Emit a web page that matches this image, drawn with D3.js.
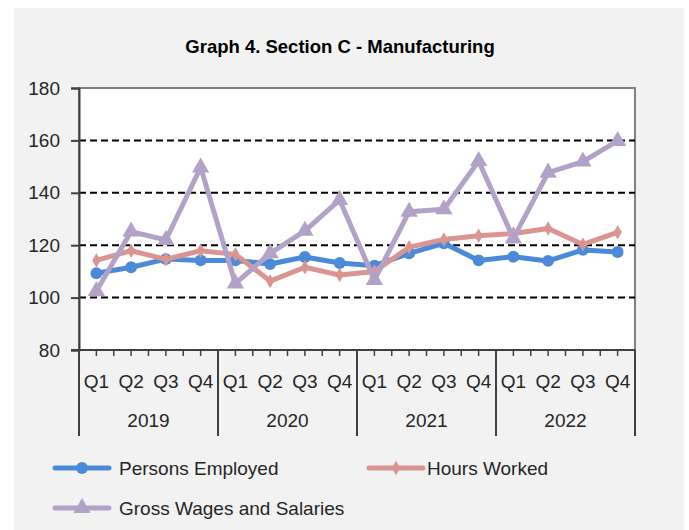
<!DOCTYPE html>
<html><head><meta charset="utf-8">
<script src="https://cdn.jsdelivr.net/npm/d3@7"></script>
<style>body{margin:0;background:#fff;}svg{display:block;font-family:"Liberation Sans",Arial,sans-serif;}</style>
</head><body>
<svg id="c" width="689" height="530"></svg>
<script>
const years = ["2019","2020","2021","2022"];
const quarters = ["Q1","Q2","Q3","Q4"];
const yTicks = [80,100,120,140,160,180];
const personsEmployed = [109.3,111.6,114.7,114.2,114.2,112.8,115.5,113.2,112.2,116.9,120.7,114.2,115.6,114.0,118.2,117.4];
const hoursWorked = [114.2,117.9,114.6,117.9,116.5,106.3,111.6,108.6,110.0,119.2,122.2,123.6,124.5,126.4,120.3,124.9];
const grossWages = [102.5,125.2,122.0,149.7,105.4,116.9,125.5,137.3,106.7,132.8,133.7,152.1,122.6,147.7,151.9,159.8];
const seriesNames = ["Persons Employed","Hours Worked","Gross Wages and Salaries"];

const cats = [];
years.forEach(y => quarters.forEach(q => cats.push(y + "-" + q)));

const svg = d3.select("#c");
const L = 79, R = 635, T = 88, B = 350;
svg.append("rect").attr("x",14).attr("y",8).attr("width",670).attr("height",522).attr("fill","#f2f2f2");
svg.append("rect").attr("x",L).attr("y",T).attr("width",R-L).attr("height",B-T).attr("fill","#fff").attr("stroke","#808080").attr("stroke-width",2);

const x = d3.scaleBand().domain(cats).range([L,R]);
const xc = d => x(d) + x.bandwidth()/2;
const y = d3.scaleLinear().domain([80,180]).range([B,T]);

// title
svg.append("text").attr("x",340).attr("y",53).attr("text-anchor","middle").attr("font-size",18.5).attr("font-weight","bold").attr("fill","#000").text("Graph 4. Section C - Manufacturing");

// gridlines
svg.append("g").selectAll("line").data(yTicks.filter(v => v>80 && v<180)).join("line")
  .attr("x1",L).attr("x2",R).attr("y1",d=>y(d)).attr("y2",d=>y(d))
  .attr("stroke","#000").attr("stroke-width",2).attr("stroke-dasharray","7,4");

// y axis
const ya = svg.append("g").attr("transform",`translate(${L},0)`)
  .call(d3.axisLeft(y).tickValues(yTicks).tickSize(8).tickPadding(11));
ya.select(".domain").attr("stroke","#404040").attr("stroke-width",2);
ya.selectAll(".tick line").attr("stroke","#404040").attr("stroke-width",2);
ya.selectAll(".tick text").attr("font-size",19).attr("fill","#262626").attr("font-family","Liberation Sans, Arial, sans-serif");

// x axis line
svg.append("line").attr("x1",L-8).attr("x2",R).attr("y1",B).attr("y2",B).attr("stroke","#404040").attr("stroke-width",2);
// minor ticks at category centers and boundaries
const tickPos = [];
cats.forEach(c => { tickPos.push(x(c)); tickPos.push(xc(c)); });
svg.append("g").selectAll("line").data(tickPos.filter(p => Math.abs(p-L)>1)).join("line")
  .attr("x1",d=>d).attr("x2",d=>d).attr("y1",B).attr("y2",B+6).attr("stroke","#404040").attr("stroke-width",1.5);
// group separators
const sepPos = years.map(yy => x(yy+"-Q1")).concat([R]);
svg.append("g").selectAll("line").data(sepPos).join("line")
  .attr("x1",d=>d).attr("x2",d=>d).attr("y1",B).attr("y2",436).attr("stroke","#404040").attr("stroke-width",2);
// quarter labels
svg.append("g").selectAll("text").data(cats).join("text")
  .attr("x",d=>xc(d)).attr("y",388).attr("text-anchor","middle").attr("font-size",19).attr("fill","#262626")
  .text(d=>d.split("-")[1]);
// year labels
svg.append("g").selectAll("text").data(years).join("text")
  .attr("x",d=>(x(d+"-Q1")+x(d+"-Q4")+x.bandwidth())/2).attr("y",427).attr("text-anchor","middle").attr("font-size",19).attr("fill","#262626")
  .text(d=>d);

const colors = ["#4a8ad8","#da9593","#b3a2c7"];
const shapes = [d3.symbolCircle, d3.symbolDiamond, d3.symbolTriangle];
const sizes = [110, 60, 130];
const data = [personsEmployed, hoursWorked, grossWages];
const line = d3.line().x((d,i)=>xc(cats[i])).y(d=>y(d));

data.forEach((s,k) => {
  svg.append("path").datum(s).attr("d",line).attr("fill","none").attr("stroke",colors[k]).attr("stroke-width",5).attr("stroke-linejoin","round");
  svg.append("g").selectAll("path").data(s).join("path")
    .attr("transform",(d,i)=>`translate(${xc(cats[i])},${y(d)})`)
    .attr("d",d3.symbol().type(shapes[k]).size(sizes[k])).attr("fill",colors[k]);
});

// legend
const leg = [{x:55,y:468},{x:369,y:468},{x:55,y:508}];
leg.forEach((p,k) => {
  svg.append("line").attr("x1",p.x).attr("x2",p.x+54).attr("y1",p.y).attr("y2",p.y).attr("stroke",colors[k]).attr("stroke-width",5).attr("stroke-linecap","round");
  svg.append("path").attr("transform",`translate(${p.x+27},${p.y})`).attr("d",d3.symbol().type(shapes[k]).size(sizes[k])).attr("fill",colors[k]);
  svg.append("text").attr("x",p.x+(k===1?58:64)).attr("y",p.y+7).attr("font-size",19).attr("fill","#262626").text(seriesNames[k]);
});
</script>
</body></html>
